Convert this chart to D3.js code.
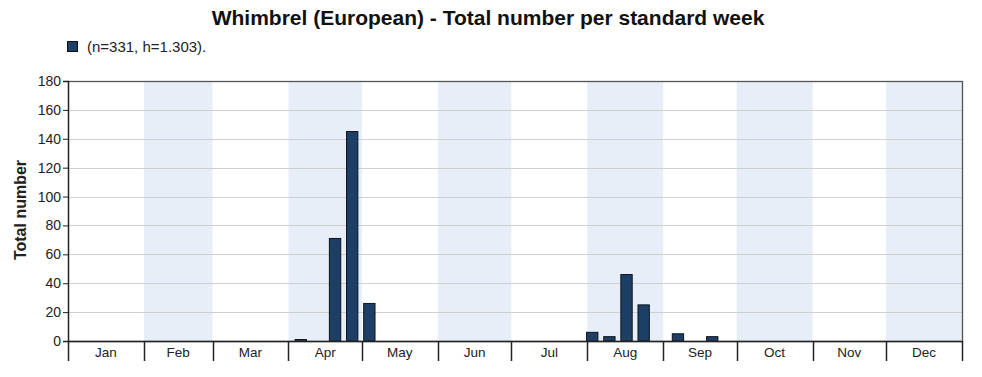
<!DOCTYPE html>
<html>
<head>
<meta charset="utf-8">
<script src="https://cdn.jsdelivr.net/npm/d3@7"></script>
<style>
  body { margin: 0; background: #fff; }
  svg { font-family: "Liberation Sans", Arial, sans-serif; }
</style>
</head>
<body>
<svg id="chart"></svg>
<script>
// Data
const months = ["Jan", "Feb", "Mar", "Apr", "May", "Jun", "Jul", "Aug", "Sep", "Oct", "Nov", "Dec"];
const monthDays = [31, 28, 31, 30, 31, 30, 31, 31, 30, 31, 30, 31];
const weeks = [14, 16, 17, 18, 31, 32, 33, 34, 36, 38]; // standard week number
const counts = [1, 71, 145, 26, 6, 3, 46, 25, 5, 3];
const yTicks = [0, 20, 40, 60, 80, 100, 120, 140, 160, 180];
const titleText = "Whimbrel (European) - Total number per standard week";
const legendText = "(n=331, h=1.303).";

const W = 982, H = 377;
const margin = { top: 81, right: 20, bottom: 36, left: 68 };
const width = W - margin.left - margin.right;
const height = H - margin.top - margin.bottom;

const svg = d3.select("#chart").attr("width", W).attr("height", H);

// month start day-of-year
const starts = Array.from(d3.cumsum([0].concat(monthDays.slice(0, -1))));

const x = d3.scaleLinear().domain([0, 365]).range([0, width]);
const y = d3.scaleLinear().domain([0, 180]).range([height, 0]);

const g = svg.append("g").attr("transform", `translate(${margin.left},${margin.top})`);

// alternating month bands
g.selectAll(".band")
    .data(months.map((m, i) => ({ m, i })).filter(d => d.i % 2 === 1))
    .enter()
    .append("rect")
    .attr("x", d => x(starts[d.i]))
    .attr("y", 0)
    .attr("width", d => x(starts[d.i] + monthDays[d.i]) - x(starts[d.i]))
    .attr("height", height)
    .attr("fill", "#e8eef8");

// gridlines
g.selectAll(".grid")
    .data(yTicks.slice(1))
    .enter()
    .append("line")
    .attr("x1", 0).attr("x2", width)
    .attr("y1", d => Math.round(y(d)) + 0.5).attr("y2", d => Math.round(y(d)) + 0.5)
    .attr("stroke", "#cfcfcf")
    .attr("stroke-width", 1);

// bars
const dayW = x(1) - x(0);
g.selectAll(".bar")
    .data(counts)
    .enter()
    .append("rect")
    .attr("class", "bar")
    .attr("x", (d, i) => x((weeks[i] - 1) * 7) + 4.2)
    .attr("y", d => y(d))
    .attr("width", 7 * dayW - 5.8)
    .attr("height", d => height - y(d))
    .attr("fill", "#1d3f66")
    .attr("stroke", "#0a1420")
    .attr("stroke-width", 1);

// frame
g.append("rect")
    .attr("x", 0.5).attr("y", 0.5)
    .attr("width", width).attr("height", height)
    .attr("fill", "none")
    .attr("stroke", "#555")
    .attr("stroke-width", 1.3);

// y axis
const yAxis = g.append("g")
    .call(d3.axisLeft(y).tickValues(yTicks).tickSize(5).tickPadding(2));
yAxis.select(".domain").attr("stroke", "#222").attr("stroke-width", 1.3);
yAxis.selectAll(".tick line").attr("stroke", "#222");
yAxis.selectAll("text").attr("font-size", 14).attr("fill", "#222")
    .attr("font-family", "Liberation Sans, Arial, sans-serif");

// x axis: month separators and labels
const xg = g.append("g").attr("transform", `translate(0,${height})`);
xg.append("line")
    .attr("x1", 0).attr("x2", width).attr("y1", 0.5).attr("y2", 0.5)
    .attr("stroke", "#222").attr("stroke-width", 1.5);
xg.selectAll(".sep")
    .data(starts.concat([365]))
    .enter()
    .append("line")
    .attr("x1", d => Math.round(x(d)) + 0.5).attr("x2", d => Math.round(x(d)) + 0.5)
    .attr("y1", 0).attr("y2", 20)
    .attr("stroke", "#222")
    .attr("stroke-width", 1.5);
xg.selectAll(".mlabel")
    .data(months)
    .enter()
    .append("text")
    .attr("x", (d, i) => x(starts[i] + monthDays[i] / 2))
    .attr("y", 16)
    .attr("text-anchor", "middle")
    .attr("font-size", 13.5)
    .attr("fill", "#222")
    .text(d => d);

// y axis label
svg.append("text")
    .attr("transform", "rotate(-90)")
    .attr("x", -(margin.top + height / 2) + 1)
    .attr("y", 26)
    .attr("text-anchor", "middle")
    .attr("font-size", 16)
    .attr("font-weight", "bold")
    .attr("fill", "#222")
    .text("Total number");

// title
svg.append("text")
    .attr("x", 488)
    .attr("y", 25)
    .attr("text-anchor", "middle")
    .attr("font-size", 21)
    .attr("font-weight", "bold")
    .attr("fill", "#111")
    .text(titleText);

// legend
svg.append("rect")
    .attr("x", 67.5).attr("y", 41.5)
    .attr("width", 10).attr("height", 10)
    .attr("fill", "#1d3f66")
    .attr("stroke", "#0a1420");
svg.append("text")
    .attr("x", 87)
    .attr("y", 52)
    .attr("font-size", 15)
    .attr("fill", "#222")
    .text(legendText);
</script>
</body>
</html>
